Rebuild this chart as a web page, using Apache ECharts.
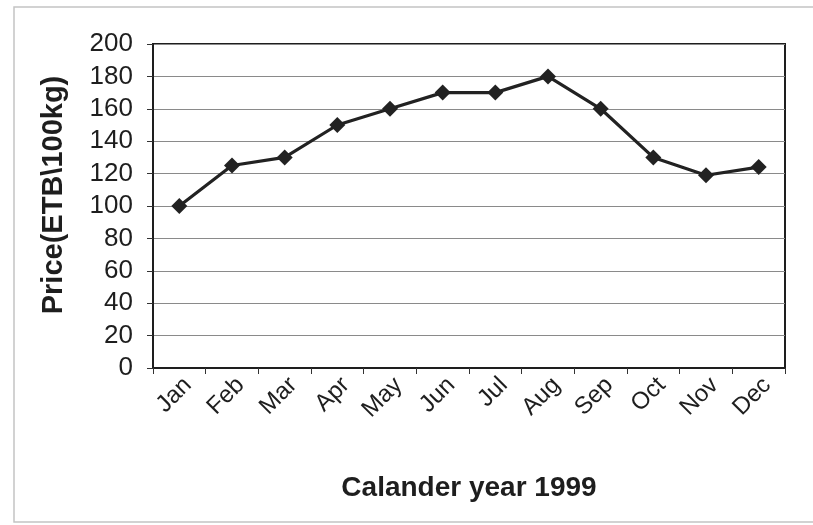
<!DOCTYPE html>
<html>
<head>
<meta charset="utf-8">
<script src="https://cdn.jsdelivr.net/npm/echarts@6/dist/echarts.min.js"></script>
<style>
  html, body { margin: 0; padding: 0; background: #fff; }
  #chart { width: 813px; height: 525px; }
</style>
</head>
<body>
<div id="chart"></div>
<script>
// Monthly price, 1999
const months = ['Jan', 'Feb', 'Mar', 'Apr', 'May', 'Jun', 'Jul', 'Aug', 'Sep', 'Oct', 'Nov', 'Dec'];
const prices = [100, 125, 130, 150, 160, 170, 170, 180, 160, 130, 119, 124];
const yTicks = [0, 20, 40, 60, 80, 100, 120, 140, 160, 180, 200];

const font = 'Liberation Sans, Arial, sans-serif';

const chart = echarts.init(document.getElementById('chart'), null, { renderer: 'canvas' });

chart.setOption({
  backgroundColor: '#ffffff',
  animation: false,
  graphic: [
    {
      type: 'polyline',
      silent: true,
      shape: { points: [[813, 7], [14, 7], [14, 522], [813, 522]] },
      style: { stroke: '#c4c4c4', lineWidth: 1.5, fill: null }
    }
  ],
  grid: {
    left: 153, top: 44, width: 632, height: 324,
    show: true, borderColor: '#1e1e1e', borderWidth: 2, backgroundColor: 'transparent'
  },
  xAxis: {
    type: 'category',
    data: months,
    boundaryGap: true,
    name: 'Calander year 1999',
    nameLocation: 'middle',
    nameGap: 106,
    nameTextStyle: { fontFamily: font, fontSize: 28, fontWeight: 'bold', color: '#1e1e1e' },
    axisLine: { lineStyle: { color: '#1e1e1e', width: 2 } },
    axisTick: { show: true, length: 6, lineStyle: { color: '#333', width: 1 } },
    axisLabel: {
      rotate: 45, margin: 5, verticalAlign: 'top',
      fontFamily: font, fontSize: 24, color: '#1e1e1e'
    },
    splitLine: { show: false }
  },
  yAxis: {
    type: 'value',
    min: yTicks[0],
    max: yTicks[yTicks.length - 1],
    interval: yTicks[1] - yTicks[0],
    name: 'Price(ETB\\100kg)',
    nameLocation: 'middle',
    nameGap: 85,
    nameTextStyle: {
      fontFamily: font, fontSize: 29, fontWeight: 'bold', color: '#1e1e1e',
      padding: [0, 0, 0, 22]
    },
    axisLine: { show: true, lineStyle: { color: '#1e1e1e', width: 2 } },
    axisTick: { show: true, length: 6, lineStyle: { color: '#333', width: 1 } },
    axisLabel: { margin: 20, fontFamily: font, fontSize: 26, color: '#1e1e1e' },
    splitLine: { show: true, lineStyle: { color: '#8a8a8a', width: 1 } }
  },
  series: [
    {
      type: 'line',
      data: prices,
      symbol: 'diamond',
      symbolSize: 16,
      lineStyle: { color: '#222', width: 3.2 },
      itemStyle: { color: '#222' }
    }
  ]
});
</script>
</body>
</html>
